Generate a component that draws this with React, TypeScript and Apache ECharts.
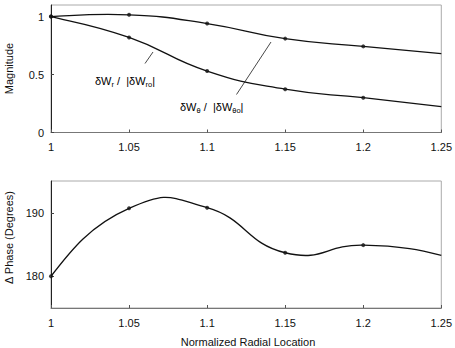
import React, { useEffect, useRef } from "react";
import * as echarts from "echarts";

// Radial stations (normalized) shared by both panels
const radialLocation = [1, 1.05, 1.1, 1.15, 1.2, 1.25];
const radialTicks = [1, 1.05, 1.1, 1.15, 1.2, 1.25];

// Normalized magnitudes
const magRadial = [1.0, 1.015, 0.94, 0.81, 0.743, 0.68];
const magTheta = [1.0, 0.82, 0.53, 0.374, 0.3, 0.223];

// Phase difference between the two components (degrees)
const phaseDiff = [180.0, 190.7, 190.8, 183.7, 184.9, 183.3];

const magnitudeTicks = [0, 0.5, 1];
const phaseTicks = [180, 190];

// the last station is the curve end and carries no marker
const markerCount = 5;

const FONT = "'Liberation Sans', Arial, Helvetica, sans-serif";
const INK = "#111";

// Cardinal-spline curve through the stations, one Bezier segment per interval,
// positioned through the axes with api.coord. With naturalEnds the first and
// last segments have zero curvature at the curve ends.
function curveSeries(values: number[], axis: number, naturalEnds: boolean) {
  const n = values.length;
  return {
    type: "custom",
    xAxisIndex: axis,
    yAxisIndex: axis,
    silent: true,
    data: radialLocation.map((x, i) => [x, values[i]]),
    renderItem: (params: any, api: any) => {
      const i = params.dataIndex;
      if (i >= n - 1) return null;
      const pt = (k: number) => api.coord([radialLocation[k], values[k]]);
      const p0 = pt(Math.max(i - 1, 0));
      const p1 = pt(i);
      const p2 = pt(i + 1);
      const p3 = pt(Math.min(i + 2, n - 1));
      const t = 0.25;
      let c1 = [p1[0] + (p2[0] - p0[0]) * t, p1[1] + (p2[1] - p0[1]) * t];
      let c2 = [p2[0] - (p3[0] - p1[0]) * t, p2[1] - (p3[1] - p1[1]) * t];
      if (naturalEnds && i === 0) c1 = [(p1[0] + c2[0]) / 2, (p1[1] + c2[1]) / 2];
      if (naturalEnds && i === n - 2) c2 = [(p2[0] + c1[0]) / 2, (p2[1] + c1[1]) / 2];
      return {
        type: "bezierCurve",
        shape: {
          x1: p1[0],
          y1: p1[1],
          x2: p2[0],
          y2: p2[1],
          cpx1: c1[0],
          cpy1: c1[1],
          cpx2: c2[0],
          cpy2: c2[1],
        },
        style: { stroke: INK, lineWidth: 1.3, fill: "none" },
      };
    },
  };
}

function markerSeries(values: number[], axis: number) {
  return {
    type: "scatter",
    xAxisIndex: axis,
    yAxisIndex: axis,
    symbol: "circle",
    symbolSize: 4,
    itemStyle: { color: INK },
    z: 3,
    data: radialLocation.slice(0, markerCount).map((x, i) => [x, values[i]]),
  };
}

export default function App() {
  const ref = useRef<HTMLDivElement>(null);

  useEffect(() => {
    if (!ref.current) return;
    const chart = echarts.init(ref.current, undefined, { renderer: "svg" });

    const xAxisFor = (g: number) => ({
      type: "value",
      gridIndex: g,
      min: 1,
      max: 1.25,
      interval: 0.05,
      axisLine: { show: true, lineStyle: { color: "#777", width: 1 } },
      axisTick: {
        show: true,
        inside: true,
        length: 3,
        customValues: radialTicks,
        lineStyle: { color: "#555" },
      },
      axisLabel: {
        margin: 9,
        fontSize: 11,
        color: INK,
        fontFamily: FONT,
        customValues: radialTicks,
        formatter: (v: number) => String(Number(v.toFixed(2))),
      },
      splitLine: { show: false },
    });

    const yAxisFor = (g: number, min: number, max: number, ticks: number[]) => ({
      type: "value",
      gridIndex: g,
      min,
      max,
      axisLine: { show: true, lineStyle: { color: "#222", width: 1 } },
      axisTick: {
        show: true,
        inside: true,
        length: 3,
        customValues: ticks,
        lineStyle: { color: "#444" },
      },
      axisLabel: {
        margin: 7,
        fontSize: 11,
        color: INK,
        fontFamily: FONT,
        customValues: ticks,
        formatter: (v: number) => String(v),
      },
      splitLine: { show: false },
    });

    const subRich = {
      m: { fontSize: 11, fontFamily: FONT, color: INK, lineHeight: 14, verticalAlign: "middle" },
      s: { fontSize: 7.5, fontFamily: FONT, color: INK, lineHeight: 8, verticalAlign: "bottom" },
    };

    chart.setOption({
      animation: false,
      backgroundColor: "#fff",
      grid: [
        { left: 51, top: 5, width: 394, height: 127.5, show: true, borderColor: "#aaa", borderWidth: 1 },
        { left: 51, top: 181, width: 394, height: 127, show: true, borderColor: "#aaa", borderWidth: 1 },
      ],
      xAxis: [xAxisFor(0), xAxisFor(1)],
      yAxis: [
        yAxisFor(0, 0, 1.1, magnitudeTicks),
        yAxisFor(1, 175, 195, phaseTicks),
      ],
      series: [
        curveSeries(magRadial, 0, false),
        markerSeries(magRadial, 0),
        curveSeries(magTheta, 0, false),
        markerSeries(magTheta, 0),
        curveSeries(phaseDiff, 1, true),
        markerSeries(phaseDiff, 1),
      ],
      graphic: [
        {
          type: "text",
          x: 9,
          y: 68.5,
          rotation: Math.PI / 2,
          style: {
            text: "Magnitude",
            fontSize: 11,
            fontFamily: FONT,
            fill: INK,
            align: "center",
            verticalAlign: "middle",
          },
        },
        {
          type: "text",
          x: 9,
          y: 237.5,
          rotation: Math.PI / 2,
          style: {
            text: "\u0394 Phase (Degrees)",
            fontSize: 11,
            fontFamily: FONT,
            fill: INK,
            align: "center",
            verticalAlign: "middle",
          },
        },
        {
          type: "text",
          x: 248,
          y: 342,
          style: {
            text: "Normalized Radial Location",
            fontSize: 11,
            fontFamily: FONT,
            fill: INK,
            align: "center",
            verticalAlign: "middle",
          },
        },
        {
          type: "text",
          x: 95,
          y: 81,
          style: {
            text: "{m|\u03B4W}{s|r}{m| /  |\u03B4W}{s|ro}{m||}",
            rich: subRich,
            align: "left",
            verticalAlign: "middle",
          },
        },
        {
          type: "line",
          shape: { x1: 145, y1: 63.5, x2: 153, y2: 52 },
          style: { stroke: "#333", lineWidth: 0.9 },
        },
        {
          type: "text",
          x: 180,
          y: 107,
          style: {
            text: "{m|\u03B4W}{s|\u03B8}{m| /  |\u03B4W}{s|\u03B8o}{m||}",
            rich: subRich,
            align: "left",
            verticalAlign: "middle",
          },
        },
        {
          type: "line",
          shape: { x1: 236.5, y1: 94.5, x2: 271, y2: 42 },
          style: { stroke: "#333", lineWidth: 0.9 },
        },
      ],
    });

    return () => chart.dispose();
  }, []);

  return (
    <div
      ref={ref}
      style={{ position: "fixed", left: 0, top: 0, width: 455, height: 348, background: "#fff" }}
    />
  );
}
